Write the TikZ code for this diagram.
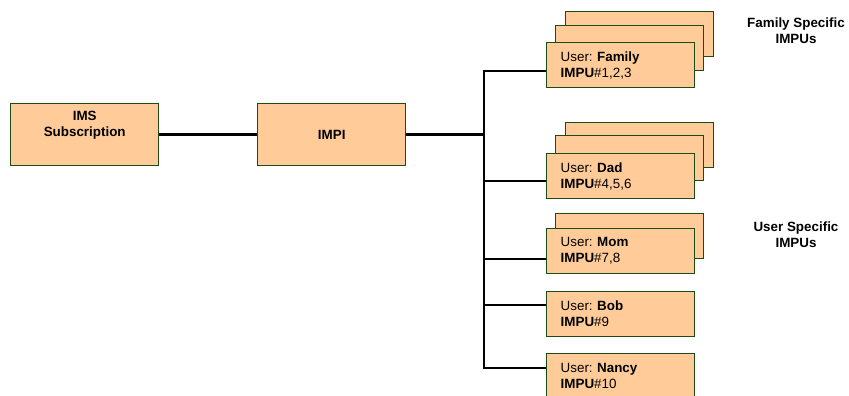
\documentclass[tikz,border=0pt]{standalone}
\usepackage{fontspec}
\setmainfont{Liberation Sans}
\definecolor{boxfill}{RGB}{255,204,153}
\definecolor{boxedge}{RGB}{30,74,20}
\begin{document}
\begin{tikzpicture}[x=1pt,y=-1pt,
  font=\fontsize{13.4}{16}\selectfont\frenchspacing,
  plainbox/.style={draw=boxedge,fill=boxfill,line width=1.4pt,minimum width=148pt,minimum height=62pt,inner sep=0pt,align=center,font=\fontsize{13.4}{16}\selectfont\bfseries,anchor=north west},
  userbox/.style={draw=boxedge,fill=boxfill,line width=1.4pt,minimum width=148pt,minimum height=45pt,inner xsep=14pt,inner ysep=0pt,text width=120pt,align=left,anchor=north west},
  backbox/.style={draw=boxedge,fill=boxfill,line width=1.4pt,minimum width=148pt,minimum height=45pt,inner sep=0pt,anchor=north west},
  link/.style={draw=black,line width=2.6pt},
  note/.style={align=center,font=\fontsize{13.4}{16}\selectfont\bfseries}]
\useasboundingbox (0,0) rectangle (849,396);

% root and identity boxes
\node[plainbox] (ims) at (10,103) {};
\node[note] (imstext) at ([yshift=9pt]ims.center) {IMS\\Subscription};
\node[plainbox] (impi) at (257,103) {IMPI};

% stacked family IMPUs
\node[backbox] (famc) at (565,11) {};
\node[backbox] (famb) at (555,25) {};
\node[userbox] (fam) at (546,42) {User: \textbf{Family}\\\textbf{IMPU}\#1,2,3};

% Dad
\node[backbox] (dadc) at (565,122) {};
\node[backbox] (dadb) at (555,135) {};
\node[userbox] (dad) at (546,153) {User: \textbf{Dad}\\\textbf{IMPU}\#4,5,6};

% Mom
\node[backbox] (momb) at (555,213) {};
\node[userbox] (mom) at (546,228) {User: \textbf{Mom}\\\textbf{IMPU}\#7,8};

% Bob and Nancy
\node[userbox] (bob) at (546,291) {User: \textbf{Bob}\\\textbf{IMPU}\#9};
\node[userbox] (nancy) at (546,353) {User: \textbf{Nancy}\\\textbf{IMPU}\#10};

% trunk junctions
\coordinate (tfam) at (484,71);
\coordinate (tdad) at (484,181);
\coordinate (tmom) at (484,259);
\coordinate (tbob) at (484,305);
\coordinate (tnancy) at (484,368);

% connectors
\draw[link] (ims.east) -- (impi.west);
\draw[link] (impi.east) -- (impi.east -| tfam);
\draw[link,line cap=rect] (tfam) -- (tnancy);
\draw[link] (tfam) -- (tfam -| fam.west);
\draw[link] (tdad) -- (tdad -| dad.west);
\draw[link] (tmom) -- (tmom -| mom.west);
\draw[link] (tbob) -- (tbob -| bob.west);
\draw[link] (tnancy) -- (tnancy -| nancy.west);

% group labels
\node[note] (famlabel) at (796,31) {Family Specific\\IMPUs};
\node[note] (userlabel) at (796,235) {User Specific\\IMPUs};
\end{tikzpicture}
\end{document}
